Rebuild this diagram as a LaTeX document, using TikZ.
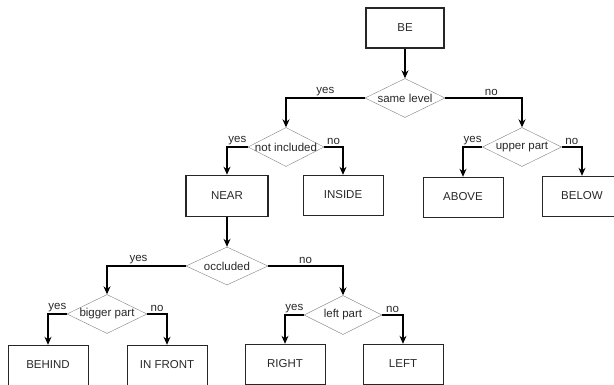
\documentclass[tikz,border=0pt]{standalone}
\usepackage{fontspec}
\setmainfont{Liberation Sans}
\usepackage{tikz}
\usetikzlibrary{arrows.meta,shapes.geometric}
\definecolor{txtCol}{RGB}{40,40,40}
\definecolor{decCol}{RGB}{130,130,130}
\tikzset{
  leaf/.style={draw=black!85,thin,minimum width=80pt,minimum height=40pt,
               inner sep=0pt,text=txtCol,font=\fontsize{11.5}{13}\selectfont},
  keyleaf/.style={leaf,line width=1.6pt},
  test/.style={diamond,aspect=2.1,draw=decCol,thin,minimum width=80pt,minimum height=39pt,
               inner sep=-1.5pt,text=txtCol,font=\fontsize{11.5}{13}\selectfont},
  flow/.style={-{Stealth[length=8pt,width=7pt]},line width=1.1pt},
  ans/.style={anchor=south,inner sep=2pt,text=txtCol,font=\fontsize{11.5}{13}\selectfont},
}
\begin{document}
\begin{tikzpicture}[x=1pt,y=-1pt]
    \clip (0,0) rectangle (614,385);
    % relation nodes
    \node[keyleaf,minimum width=78pt] (be) at (405,28) {BE};
    \node[keyleaf,minimum width=82pt,minimum height=41pt] (near) at (227,196) {NEAR};
    \foreach \n/\x/\y/\t in {inside/343/195/INSIDE,above/463/197/ABOVE,below/582/196/BELOW,
                             behind/48/365/BEHIND,front/167/365/IN FRONT,
                             right/285/364/RIGHT,left/403/364/LEFT}
       \node[leaf] (\n) at (\x,\y) {\t};
    % decisions
    \node[test] (same) at (405,98) {same level};
    \node[test,minimum width=76pt] (incl) at (286,147) {not included};
    \node[test,minimum width=79pt] (upper) at (522,147) {upper part};
    \node[test,minimum width=82pt,minimum height=38pt] (occl) at (227,266) {occluded};
    \node[test] (bigger) at (107,314) {bigger part};
    \node[test,minimum width=78pt] (leftp) at (343,315) {left part};
    % connectors
    \draw[flow] (be) -- (same);
    \draw[flow] (same.west) -| node[ans,pos=0.25] {yes} (incl);
    \draw[flow] (same.east) -| node[ans,pos=0.3] {no} (upper);
    \draw[flow] (incl.west) -| node[ans,pos=0.25] {yes} (near);
    \draw[flow] (incl.east) -| node[ans,pos=0.25] {no} (inside);
    \draw[flow] (upper.west) -| node[ans,pos=0.25] {yes} (above);
    \draw[flow] (upper.east) -| node[ans,pos=0.25] {no} (below);
    \draw[flow] (near) -- (occl);
    \draw[flow] (occl.west) -| node[ans,pos=0.3] {yes} (bigger);
    \draw[flow] (occl.east) -| node[ans,pos=0.25] {no} (leftp);
    \draw[flow] (bigger.west) -| node[ans,pos=0.25] {yes} (behind);
    \draw[flow] (bigger.east) -| node[ans,pos=0.25] {no} (front);
    \draw[flow] (leftp.west) -| node[ans,pos=0.25] {yes} (right);
    \draw[flow] (leftp.east) -| node[ans,pos=0.25] {no} (left);
\end{tikzpicture}
\end{document}
